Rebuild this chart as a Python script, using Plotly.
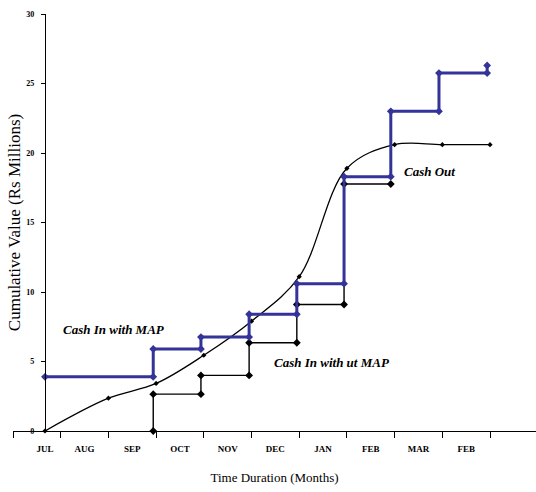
import plotly.graph_objects as go

# ---- data ----
month_labels = ["JUL", "AUG", "SEP", "OCT", "NOV", "DEC", "JAN", "FEB", "MAR", "FEB"]
month_label_pos = [0.67, 1.5, 2.5, 3.5, 4.5, 5.5, 6.5, 7.5, 8.5, 9.5]
month_boundaries = [0, 1, 2, 3, 4, 5, 6, 7, 8, 9, 10]
y_ticks = [0, 5, 10, 15, 20, 25, 30]

cash_out_x = [0.67, 2.0, 3.0, 4.0, 5.0, 6.0, 7.0, 8.0, 9.0, 10.0]
cash_out_y = [0, 2.36, 3.42, 5.45, 7.9, 11.1, 18.9, 20.6, 20.6, 20.6]

map_x = [0.67, 2.94, 3.94, 4.95, 5.95, 6.94, 7.92, 8.93, 9.94]
map_y = [3.9, 5.9, 6.76, 8.4, 10.6, 18.3, 23.0, 25.75, 26.3]

nomap_x = [2.94, 3.94, 4.95, 5.95, 6.94, 7.92]
nomap_y = [0, 2.65, 4.0, 6.35, 9.1, 17.77]

BLUE = "#333399"
SERIF = "Liberation Serif"


def hv_corners(xs, ys):
    px, py = [xs[0]], [ys[0]]
    for i in range(1, len(xs)):
        px += [xs[i], xs[i]]
        py += [ys[i - 1], ys[i]]
    return px, py


def vh_corners(xs, ys):
    px, py = [xs[0]], [ys[0]]
    for i in range(1, len(ys)):
        px.append(xs[i - 1]); py.append(ys[i])
        if i < len(xs):
            px.append(xs[i]); py.append(ys[i])
    return px, py


fig = go.Figure()

fig.add_trace(go.Scatter(
    x=cash_out_x, y=cash_out_y, mode="lines+markers",
    line=dict(color="black", width=1.3, shape="spline", smoothing=1),
    marker=dict(symbol="diamond", size=4, color="black"),
    cliponaxis=False, showlegend=False, name="Cash Out"))

nx, ny = vh_corners(nomap_x, nomap_y)
fig.add_trace(go.Scatter(
    x=nx, y=ny, mode="lines+markers",
    line=dict(color="black", width=1.4),
    marker=dict(symbol="diamond", size=6, color="black"),
    cliponaxis=False, showlegend=False, name="Cash In without MAP"))

mx, my = hv_corners(map_x, map_y)
fig.add_trace(go.Scatter(
    x=mx, y=my, mode="lines+markers",
    line=dict(color=BLUE, width=3),
    marker=dict(symbol="diamond", size=6, color=BLUE),
    cliponaxis=False, showlegend=False, name="Cash In with MAP"))

ann_font = dict(family=SERIF, size=13, color="black", weight="bold", style="italic")
fig.add_annotation(x=2.12, y=7.27, text="Cash In with MAP", showarrow=False,
                   font=ann_font, xanchor="center", yanchor="middle")
fig.add_annotation(x=6.69, y=4.9, text="Cash In with ut MAP", showarrow=False,
                   font=ann_font, xanchor="center", yanchor="middle")
fig.add_annotation(x=8.74, y=18.7, text="Cash Out", showarrow=False,
                   font=ann_font, xanchor="center", yanchor="middle")

fig.update_layout(
    width=536, height=492,
    margin=dict(l=13, r=0, t=14, b=61),
    paper_bgcolor="white", plot_bgcolor="white",
    xaxis=dict(
        range=[0, 10.964], showgrid=False, zeroline=False,
        showline=True, linecolor="black", linewidth=1,
        tickmode="array", tickvals=month_label_pos, ticktext=month_labels,
        ticks="outside", ticklen=9, tickcolor="rgba(0,0,0,0)",
        tickfont=dict(family=SERIF, size=9, color="black", weight="bold"),
        minor=dict(tickmode="array", tickvals=month_boundaries, ticks="outside",
                   ticklen=6, tickcolor="black", tickwidth=1, showgrid=False),
        title=dict(text="Time Duration (Months)", standoff=20,
                   font=dict(family=SERIF, size=13, color="black")),
        automargin=False,
    ),
    yaxis=dict(
        range=[0, 30], anchor="free", position=0.0611, side="left",
        showgrid=False, zeroline=False,
        showline=True, linecolor="black", linewidth=1,
        tickmode="array", tickvals=y_ticks,
        ticks="outside", ticklen=4, tickcolor="black", ticklabelstandoff=5,
        tickfont=dict(family=SERIF, size=8, color="black", weight="bold"),
        title=dict(text="Cumulative Value (Rs Millions)", standoff=0,
                   font=dict(family=SERIF, size=17, color="black")),
        automargin=False,
    ),
)

fig.write_html("out.html", config={"displayModeBar": False},
               post_script="document.body.style.margin='0';")
